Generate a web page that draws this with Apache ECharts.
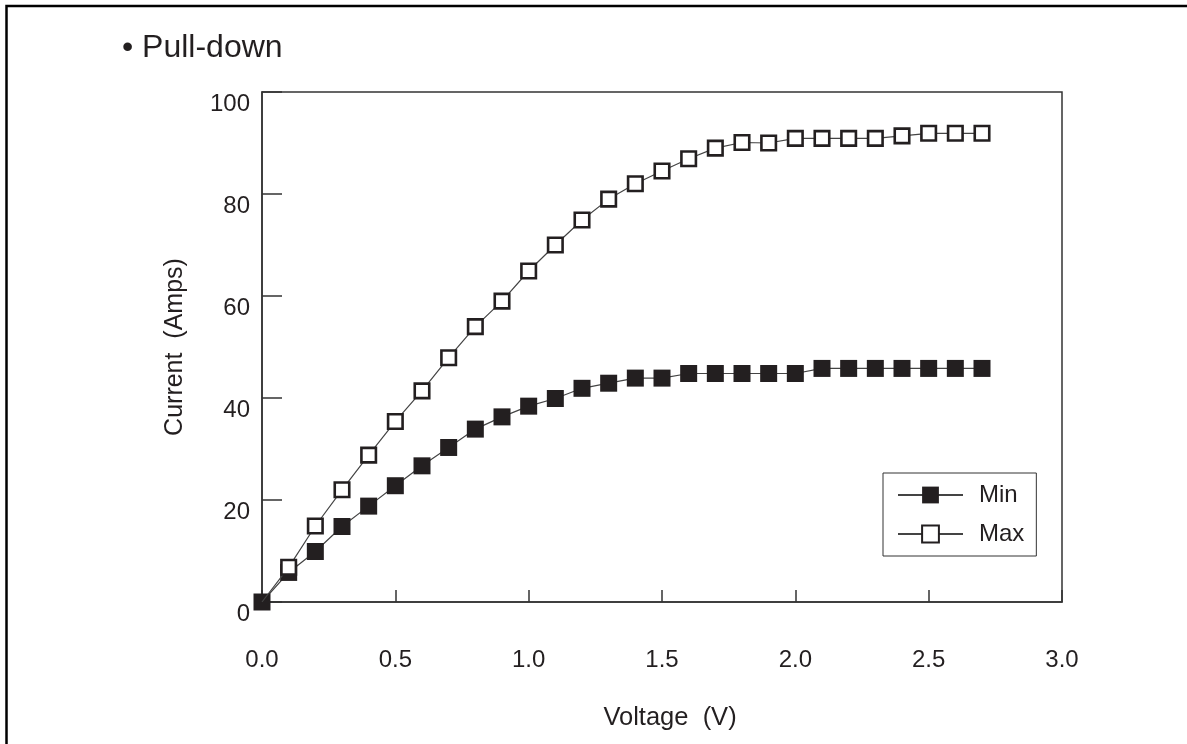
<!DOCTYPE html>
<html>
<head>
<meta charset="utf-8">
<script src="https://cdn.jsdelivr.net/npm/echarts@6/dist/echarts.min.js"></script>
<style>
html,body{margin:0;padding:0;background:#fff;}
#chart{width:1187px;height:744px;}
</style>
</head>
<body>
<div id="chart"></div>
<script>
var voltage = [0.0,0.1,0.2,0.3,0.4,0.5,0.6,0.7,0.8,0.9,1.0,1.1,1.2,1.3,1.4,1.5,1.6,1.7,1.8,1.9,2.0,2.1,2.2,2.3,2.4,2.5,2.6,2.7];
var minCurrent = [0,5.8,9.9,14.8,18.8,22.8,26.7,30.3,33.9,36.3,38.4,39.9,41.9,42.9,43.9,43.9,44.8,44.8,44.8,44.8,44.8,45.8,45.8,45.8,45.8,45.8,45.8,45.8];
var maxCurrent = [0,6.8,14.9,22.0,28.8,35.4,41.4,47.9,54.0,59.0,64.9,70.0,74.9,79.0,82.0,84.5,86.9,89.0,90.1,90.0,90.9,90.9,90.9,90.9,91.4,91.9,91.9,91.9];
var seriesNames = ['Min','Max'];
var titleText = '\u2022 Pull-down';
var xName = 'Voltage  (V)';
var yName = 'Current  (Amps)';

var FONT = 'Liberation Sans, Arial, Helvetica, sans-serif';
var INK = '#231f20';

function pairs(vals, hideFirst){
  return voltage.map(function(v,i){
    var item = {value:[v, vals[i]]};
    if (hideFirst && i === 0) item.symbol = 'none';
    return item;
  });
}

var chart = echarts.init(document.getElementById('chart'), null, {renderer:'canvas'});
chart.setOption({
  backgroundColor:'#fff',
  animation:false,
  title:{
    text: titleText,
    left: 117, top: 27,
    textStyle:{fontFamily:FONT, fontSize:32, fontWeight:'normal', color:INK}
  },
  graphic:[{
    type:'polyline',
    shape:{points:[[6.5,744],[6.5,6],[1187,6]]},
    style:{stroke:'#000', lineWidth:2.5, fill:null}
  }],
  grid:{
    left:262, right:125, top:92, bottom:142,
    show:true, borderColor:'#333', borderWidth:1.5, backgroundColor:'transparent'
  },
  legend:{
    data: seriesNames,
    orient:'vertical',
    left: 883, top: 473,
    width: 151,
    padding:[10, 12, 10, 14],
    itemGap: 15,
    itemWidth: 65,
    itemHeight: 21,
    borderColor:'#333', borderWidth:1,
    textStyle:{fontFamily:FONT, fontSize:24, color:INK, padding:[0,0,0,11]}
  },
  xAxis:{
    type:'value', min:0, max:3, interval:0.5,
    name: xName, nameLocation:'middle', nameGap:103,
    nameTextStyle:{fontFamily:FONT, fontSize:25.5, color:INK, padding:[0,0,0,16]},
    axisLine:{lineStyle:{color:'#333', width:1.5}},
    axisTick:{inside:true, length:12, lineStyle:{color:'#333', width:1.5}},
    axisLabel:{margin:46, fontFamily:FONT, fontSize:24, color:INK,
      formatter:function(v){return v.toFixed(1);}},
    splitLine:{show:false}
  },
  yAxis:{
    type:'value', min:0, max:100, interval:20,
    name: yName, nameLocation:'middle', nameGap:74,
    nameTextStyle:{fontFamily:FONT, fontSize:25, color:INK},
    axisLine:{lineStyle:{color:'#333', width:1.5}},
    axisTick:{inside:true, length:20, lineStyle:{color:'#333', width:1.5}},
    axisLabel:{margin:12, fontFamily:FONT, fontSize:24, color:INK, verticalAlign:'top', padding:[0,0,0,0]},
    splitLine:{show:false}
  },
  series:[
    {
      name: seriesNames[0], type:'line',
      data: pairs(minCurrent, false),
      symbol:'rect', symbolSize:17,
      itemStyle:{color:INK, borderWidth:0},
      lineStyle:{color:'#444', width:1.2},
      z:2
    },
    {
      name: seriesNames[1], type:'line',
      data: pairs(maxCurrent, true),
      symbol:'rect', symbolSize:14.5,
      itemStyle:{color:'#fff', borderColor:INK, borderWidth:2.6},
      lineStyle:{color:'#444', width:1.2},
      z:3
    }
  ]
});
</script>
</body>
</html>
